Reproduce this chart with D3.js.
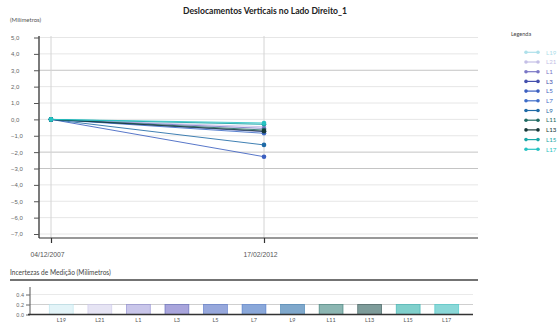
<!DOCTYPE html>
<html><head><meta charset="utf-8">
<script src="https://cdn.jsdelivr.net/npm/d3@7"></script>
<style>body{margin:0;background:#fff}svg{display:block;font-family:Lato,"Open Sans",sans-serif}</style>
</head><body><svg id="c" width="560" height="323"></svg>
<script>
const dates = ["04/12/2007", "17/02/2012"];
const series = ["L19", "L21", "L1", "L3", "L5", "L7", "L9", "L11", "L13", "L15", "L17"];
const colors = ["#aee0ea", "#c4bfe6", "#7a77c6", "#4450ad", "#3b5fc0", "#3d6cc8", "#1f6aa6", "#1f6a62", "#163838", "#1aa6a6", "#26c2c2"];
const barFills = ["#e3f4f8", "#e6e4f4", "#c9c6ea", "#a9a5dc", "#97a8dc", "#8aa8da", "#7fa8cc", "#8cb6b2", "#7e9c9a", "#80d0cc", "#8ad8d8"];
const startValues = [0, 0, 0, 0, 0, 0, 0, 0, 0, 0, 0];
const endValues = [-0.3, -0.45, -0.55, -0.75, -2.28, -0.85, -1.56, -0.65, -0.72, -0.3, -0.22];
const uncertainty = [0.2, 0.2, 0.2, 0.2, 0.2, 0.2, 0.2, 0.2, 0.2, 0.2, 0.2];
const yTicks = [5, 4, 3, 2, 1, 0, -1, -2, -3, -4, -5, -6, -7];
const barTicks = [0.0, 0.2, 0.4];

const svg = d3.select("#c");
const parse = d3.timeParse("%d/%m/%Y");
const x = d3.scaleTime().domain(dates.map(parse)).range([51, 264]);
const y = d3.scaleLinear().domain([-7, 5]).range([234, 37.5]);
const fmt = d => d3.format(".1f")(d).replace(".", ",");

// title
svg.append("text").attr("x", 265).attr("y", 14).attr("text-anchor", "middle")
  .attr("font-size", 8.6).attr("font-weight", "bold").attr("fill", "#222")
  .text("Deslocamentos Verticais no Lado Direito_1");
svg.append("text").attr("x", 10).attr("y", 22).attr("font-size", 6).attr("fill", "#555").text("(Milímetros)");

// gridlines
const darker = [3, -2, -3];
svg.append("g").selectAll("line").data(yTicks).join("line")
  .attr("x1", 39).attr("x2", 478).attr("y1", d => y(d)).attr("y2", d => y(d))
  .attr("stroke", d => darker.includes(d) ? "#c4c4c4" : "#e6e6e6").attr("stroke-width", 1);
svg.append("g").selectAll("line").data(dates).join("line")
  .attr("x1", d => x(parse(d))).attr("x2", d => x(parse(d))).attr("y1", 36).attr("y2", 238)
  .attr("stroke", "#d4d4d4");

// y axis
const ya = svg.append("g").attr("transform", "translate(39,0)")
  .call(d3.axisLeft(y).tickValues(yTicks).tickFormat(fmt).tickSize(5).tickSizeOuter(0));
ya.select(".domain").attr("stroke", "#333").attr("stroke-width", 1.3).attr("d", "M0,36V238");
ya.selectAll(".tick line").attr("stroke", "#555");
ya.selectAll(".tick text").attr("font-size", 6).attr("fill", "#666").attr("text-anchor", "start").attr("x", -28);

// x axis
const xa = svg.append("g").attr("transform", "translate(0,238)")
  .call(d3.axisBottom(x).tickValues(dates.map(parse)).tickFormat(d3.timeFormat("%d/%m/%Y")).tickSize(5).tickSizeOuter(0));
xa.select(".domain").attr("stroke", "#333").attr("stroke-width", 1.2).attr("d", "M39,0H478");
xa.selectAll(".tick line").attr("stroke", "#333").attr("stroke-width", 1.2);
xa.selectAll(".tick text").attr("font-size", 6.8).attr("fill", "#555").attr("y", 14).attr("dx", -4);

// lines
const line = d3.line().x(d => x(d.t)).y(d => y(d.v));
const data = series.map((s, i) => ({name: s, color: colors[i], pts: [{t: parse(dates[0]), v: startValues[i]}, {t: parse(dates[1]), v: endValues[i]}]}));
const g = svg.append("g");
data.forEach(s => {
  g.append("path").attr("d", line(s.pts)).attr("fill", "none").attr("stroke", s.color).attr("stroke-width", 1).attr("opacity", 0.85);
  g.selectAll(null).data(s.pts).join("circle").attr("cx", d => x(d.t)).attr("cy", d => y(d.v)).attr("r", 2.3).attr("fill", s.color);
});

// legend
svg.append("text").attr("x", 511).attr("y", 36).attr("font-size", 5.5).attr("fill", "#444").text("Legenda");
const leg = svg.append("g").selectAll("g").data(series).join("g")
  .attr("transform", (d, i) => `translate(0,${52.3 + i * 9.7})`);
leg.append("line").attr("x1", 526).attr("x2", 538).attr("stroke", (d, i) => colors[i]).attr("stroke-width", 1.2);
leg.append("circle").attr("cx", 526).attr("r", 1.8).attr("fill", (d, i) => colors[i]);
leg.append("circle").attr("cx", 538).attr("r", 1.8).attr("fill", (d, i) => colors[i]);
leg.append("text").attr("x", 546).attr("y", 2.2).attr("font-size", 6.2).attr("fill", (d, i) => colors[i]).text(d => d);

// bottom panel
svg.append("text").attr("x", 10).attr("y", 275).attr("font-size", 6.6).attr("fill", "#444").text("Incertezas de Medição (Milímetros)");
svg.append("line").attr("x1", 10).attr("x2", 478).attr("y1", 280).attr("y2", 280).attr("stroke", "#444").attr("stroke-width", 1.4);

const bx = d3.scaleBand().domain(series).range([42, 466]).paddingInner(0.38).paddingOuter(0.19);
const by = d3.scaleLinear().domain([0, 0.5]).range([314.5, 289.5]);
svg.append("g").selectAll("line").data([0.2, 0.4]).join("line")
  .attr("x1", 30).attr("x2", 473).attr("y1", d => by(d)).attr("y2", d => by(d))
  .attr("stroke", d => d === 0.2 ? "#cfcfcf" : "#eaeaea");
svg.append("g").selectAll("rect").data(series).join("rect")
  .attr("x", d => bx(d)).attr("width", bx.bandwidth())
  .attr("y", (d, i) => by(uncertainty[i])).attr("height", (d, i) => by(0) - by(uncertainty[i]))
  .attr("fill", (d, i) => barFills[i]).attr("stroke", (d, i) => colors[i]).attr("stroke-width", 0.8).attr("stroke-opacity", 0.6);
const bya = svg.append("g").attr("transform", "translate(30,0)")
  .call(d3.axisLeft(by).tickValues(barTicks).tickFormat(d3.format(".1f")).tickSize(4).tickSizeOuter(0));
bya.select(".domain").attr("stroke", "#555").attr("d", "M0,287V314.5");
bya.selectAll(".tick text").attr("font-size", 5.5).attr("fill", "#666").attr("x", -6);
bya.selectAll(".tick line").attr("stroke", "#666");
svg.append("line").attr("x1", 28).attr("x2", 473).attr("y1", 314.5).attr("y2", 314.5).attr("stroke", "#333").attr("stroke-width", 1.3);
svg.append("g").selectAll("text").data(series).join("text")
  .attr("x", d => bx(d) + bx.bandwidth() / 2).attr("y", 322).attr("text-anchor", "middle")
  .attr("font-size", 5.5).attr("fill", "#555").text(d => d);
</script></body></html>
